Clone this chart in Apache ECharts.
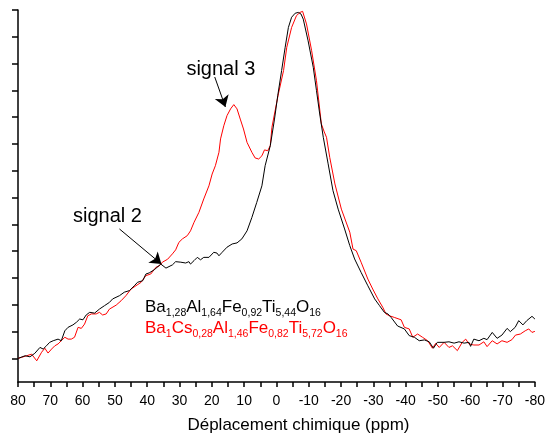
<!DOCTYPE html>
<html><head><meta charset="utf-8">
<script src="https://cdn.jsdelivr.net/npm/echarts@6/dist/echarts.min.js"></script>
<style>html,body{margin:0;padding:0;background:#fff}#c{width:548px;height:439px}</style>
</head><body><div id="c"></div>
<script>
// x tick labels (ppm), reversed axis
const xTickLabels = [80,70,60,50,40,30,20,10,0,-10,-20,-30,-40,-50,-60,-70,-80];
// y tick positions (arbitrary intensity units, no labels)
const yTickValues = [0,1,2,3,4,5,6,7,8,9,10,11,12,13];

// Ba1,28Al1,64Fe0,92Ti5,44O16 (black)
const blackPpm = [80,77.8,76.3,74.8,73.2,72.2,71.2,70.2,69.1,67.6,66.6,65.5,64.5,63.0,61.9,60.9,59.9,58.9,57.8,56.3,54.8,53.2,51.7,50.7,48.6,47.1,45.5,44.0,43.0,41.4,40.4,39.4,37.8,35.8,34.2,32.2,31.2,29.6,28.1,27.1,26.6,25.5,24.5,23.5,22.5,20.9,19.4,18.4,17.8,16.8,15.3,13.7,12.2,10.7,9.1,7.6,6.1,4.5,3.5,1.9,0.6,-0.4,-1.6,-2.7,-3.7,-4.7,-5.8,-6.8,-7.6,-8.3,-9.8,-11.4,-12.4,-13.4,-14.5,-16.0,-17.5,-19.1,-21.1,-22.7,-24.2,-26.2,-28.3,-30.4,-31.9,-33.4,-34.5,-35.5,-37.5,-39.6,-41.1,-42.7,-44.2,-45.8,-47.3,-48.6,-49.8,-51.9,-53.4,-55.0,-56.5,-58.1,-59.6,-60.1,-61.1,-62.7,-64.2,-65.2,-66.8,-68.3,-69.8,-71.4,-72.4,-73.9,-75.0,-76.3,-77.5,-79.1,-80];
const blackIntensity = [0.0,0.10,0.06,0.19,0.41,0.35,0.47,0.60,0.66,0.72,0.66,1.03,1.16,1.25,1.35,1.47,1.44,1.62,1.72,1.69,1.84,1.97,2.09,2.22,2.34,2.47,2.53,2.71,2.84,2.90,3.15,3.19,3.31,3.52,3.37,3.49,3.61,3.59,3.56,3.61,3.52,3.65,3.77,3.68,3.77,3.77,3.96,3.93,3.83,3.96,4.15,4.27,4.31,4.46,4.76,5.26,5.82,6.44,7.19,7.94,8.93,9.80,10.74,11.61,12.35,12.73,12.88,12.91,12.85,12.66,11.85,10.86,9.99,9.12,8.25,7.26,6.26,5.57,4.83,4.21,3.71,3.21,2.71,2.22,1.97,1.72,1.66,1.53,1.21,1.10,0.85,0.79,0.66,0.69,0.62,0.38,0.60,0.60,0.62,0.57,0.62,0.57,0.60,0.45,0.72,0.66,0.75,0.70,0.97,0.75,0.87,1.12,1.00,1.16,1.41,1.25,1.41,1.57,1.47];

// Ba1Cs0,28Al1,46Fe0,82Ti5,72O16 (red)
const redPpm = [80,78.9,77.3,75.8,74.2,72.7,71.7,70.7,69.6,68.6,67.6,66.6,65.5,64.5,63.5,62.5,61.4,60.4,59.4,58.4,57.3,55.8,54.8,53.8,52.7,51.7,49.6,48.1,46.6,45.0,43.5,41.9,40.4,38.9,37.3,36.3,35.3,33.7,32.2,31.2,30.2,29.1,27.6,26.6,25.5,24.0,22.5,20.9,19.9,18.9,17.8,17.3,16.3,15.3,14.2,13.2,12.2,11.2,10.2,9.1,7.6,6.6,5.5,4.5,3.7,2.7,1.9,1.4,-0.1,-0.6,-2.2,-3.2,-4.7,-6.2,-7.3,-8.1,-9.3,-10.9,-12.4,-13.9,-14.8,-15.5,-16.5,-18.1,-20.1,-22.7,-23.7,-24.7,-26.2,-28.3,-29.8,-31.4,-32.9,-33.9,-35.0,-36.5,-38.6,-39.6,-41.1,-42.2,-43.7,-45.2,-46.8,-48.3,-49.3,-50.4,-51.9,-53.4,-54.5,-56.0,-57.5,-58.6,-59.6,-61.1,-62.7,-64.2,-65.2,-66.8,-68.3,-69.8,-71.4,-72.9,-74.0,-75.5,-77.0,-78.1,-79.1,-80];
const redIntensity = [0.0,0.04,0.10,0.16,-0.09,0.23,0.38,0.20,0.35,0.47,0.54,0.66,0.79,0.72,0.72,0.79,1.16,1.12,1.28,1.59,1.66,1.66,1.72,1.62,1.66,1.84,1.99,2.15,2.34,2.59,2.71,2.84,3.09,3.15,3.40,3.45,3.59,3.70,3.90,4.05,4.33,4.46,4.58,4.76,5.08,5.45,5.95,6.44,6.88,7.19,7.69,8.19,8.68,9.06,9.31,9.47,9.31,8.93,8.56,8.06,7.69,7.48,7.44,7.56,7.78,7.75,7.94,8.62,9.56,9.87,10.74,11.61,12.35,12.79,12.91,12.95,12.48,11.48,10.36,8.75,8.45,8.25,7.50,6.51,5.57,4.71,4.08,4.02,3.59,2.96,2.59,2.22,1.91,1.66,1.59,1.53,1.44,1.16,1.10,0.79,0.91,0.79,0.66,0.38,0.56,0.41,0.60,0.41,0.47,0.29,0.60,0.72,0.54,0.50,0.50,0.62,0.44,0.66,0.54,0.66,0.60,0.70,0.87,0.91,1.03,1.10,0.97,1.01];

// annotation arrows in data units: [ppm, intensity]
const signal3Arrow = [[19.1, 10.50], [15.8, 9.38]];
const signal2Arrow = [[48.6, 4.83], [35.6, 3.52]];
const signal3Label = [17.2, 10.77];
const signal2Label = [52.3, 5.30];

const FONT = '"Liberation Sans", Arial, sans-serif';
const zip = (a, b) => a.map((v, i) => [v, b[i]]);

const chart = echarts.init(document.getElementById('c'), null, {renderer: 'canvas'});
function richStyle(color) {
  return {
    b: {fontSize: 17, fontFamily: FONT, fontWeight: 'normal', color: color, lineHeight: 20},
    s: {fontSize: 10.5, fontFamily: FONT, fontWeight: 'normal', color: color, padding: [12, 0, 0, 0]}
  };
}
chart.setOption({
  animation: false,
  backgroundColor: '#fff',
  grid: {left: 18, right: 10, top: 10, bottom: 56},
  title: [
    {left: 145, top: 296, padding: 0, itemGap: 0,
      text: '{b|Ba}{s|1,28}{b|Al}{s|1,64}{b|Fe}{s|0,92}{b|Ti}{s|5,44}{b|O}{s|16}',
      textStyle: {fontWeight: 'normal', rich: richStyle('#000')}},
    {left: 145, top: 317, padding: 0, itemGap: 0,
      text: '{b|Ba}{s|1}{b|Cs}{s|0,28}{b|Al}{s|1,46}{b|Fe}{s|0,82}{b|Ti}{s|5,72}{b|O}{s|16}',
      textStyle: {fontWeight: 'normal', rich: richStyle('#ff0000')}}
  ],
  xAxis: {
    type: 'value', min: -80, max: 80, interval: 10, inverse: true,
    name: 'Déplacement chimique (ppm)', nameLocation: 'middle', nameGap: 35,
    nameTextStyle: {fontSize: 17, fontFamily: FONT, color: '#000', padding: [0, 0, 0, 44]},
    axisLine: {show: true, onZero: false, lineStyle: {color: '#000', width: 1.5}},
    axisTick: {show: true, inside: false, length: 5, lineStyle: {color: '#000', width: 1.5}},
    minorTick: {show: true, splitNumber: 2, length: 5, lineStyle: {color: '#000', width: 1.5}},
    axisLabel: {fontSize: 14, fontFamily: FONT, color: '#000', margin: 12,
      formatter: v => xTickLabels.includes(v) ? String(v) : ''},
    splitLine: {show: false}
  },
  yAxis: {
    type: 'value', min: -0.88, max: 13,
    axisLine: {show: true, onZero: false, lineStyle: {color: '#000', width: 1.5}},
    axisTick: {show: true, inside: false, length: 6, customValues: yTickValues, lineStyle: {color: '#000', width: 1.5}},
    axisLabel: {show: false},
    splitLine: {show: false}
  },
  series: [
    {
      type: 'line', name: 'black', data: zip(blackPpm, blackIntensity),
      showSymbol: false, symbol: 'none', smooth: false,
      lineStyle: {color: '#000', width: 1}, z: 3,
      markLine: {
        silent: true, symbol: ['none', 'arrow'], symbolSize: 11,
        lineStyle: {color: '#000', width: 1, type: 'solid'},
        itemStyle: {color: '#000'},
        label: {show: false},
        data: [
          [{coord: signal3Arrow[0]}, {coord: signal3Arrow[1]}],
          [{coord: signal2Arrow[0]}, {coord: signal2Arrow[1]}]
        ]
      },
      markPoint: {
        silent: true, symbol: 'circle', symbolSize: 0,
        label: {show: true, position: 'inside', fontSize: 20, fontFamily: FONT, color: '#000',
          formatter: p => p.name},
        data: [
          {name: 'signal 3', coord: signal3Label},
          {name: 'signal 2', coord: signal2Label}
        ]
      }
    },
    {
      type: 'line', name: 'red', data: zip(redPpm, redIntensity),
      showSymbol: false, symbol: 'none', smooth: false,
      lineStyle: {color: '#ff0000', width: 1}, z: 2
    }
  ]
});
</script></body></html>
